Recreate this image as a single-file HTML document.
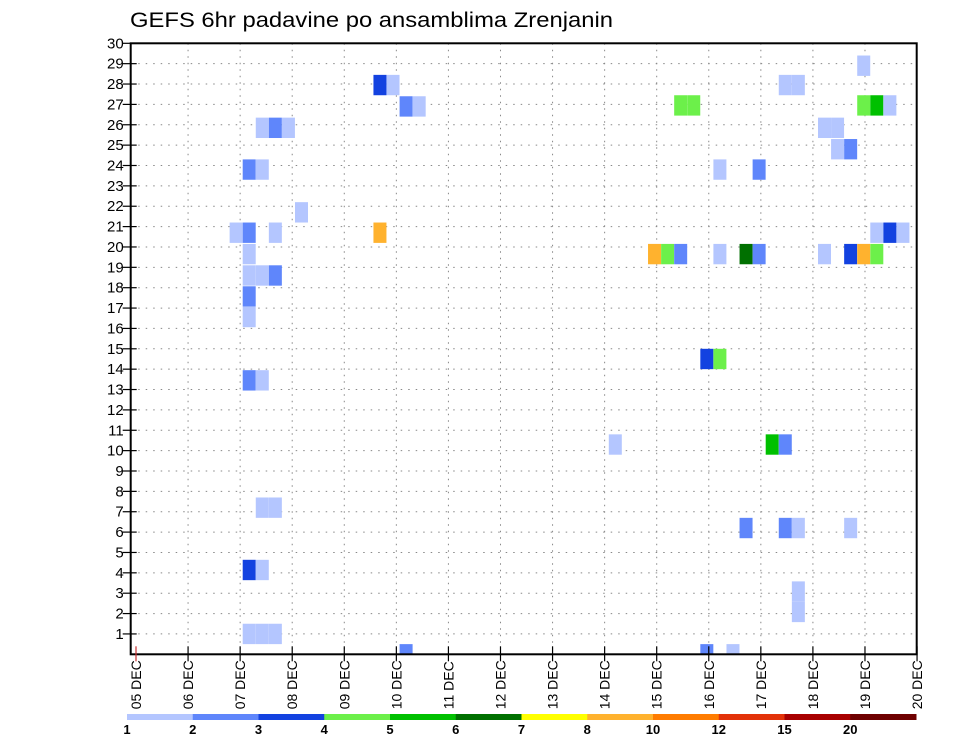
<!DOCTYPE html>
<html><head><meta charset="utf-8">
<style>
html,body{margin:0;padding:0;background:#fff;}
svg{display:block;font-family:"Liberation Sans",sans-serif;}
</style></head>
<body>
<svg id="chart" width="960" height="742" viewBox="0 0 960 742" xmlns="http://www.w3.org/2000/svg">
<text x="130" y="27" font-size="21" textLength="483" lengthAdjust="spacingAndGlyphs" fill="#000">GEFS 6hr padavine po ansamblima Zrenjanin</text>
<g id="grid"></g>
<g id="cells"></g>
<g id="axes"></g>
<g id="legend"></g>
</svg>
<script>
// ---- data ----
const dayLabels = ["05 DEC","06 DEC","07 DEC","08 DEC","09 DEC","10 DEC","11 DEC","12 DEC","13 DEC","14 DEC","15 DEC","16 DEC","17 DEC","18 DEC","19 DEC","20 DEC"];
const rowLabels = [1,2,3,4,5,6,7,8,9,10,11,12,13,14,15,16,17,18,19,20,21,22,23,24,25,26,27,28,29,30];
const levelLabels = ["1","2","3","4","5","6","7","8","10","12","15","20"];
const levelColors = ["#b4c6ff","#5f86fb","#1342e0","#6cf04a","#00c000","#007000","#ffff00","#ffb22e","#ff7c00","#e33208","#a80000","#6e0000"];
// cells: time step (6h steps from 05 DEC 00Z), member row, precipitation level index
const cellSteps = [
  55,
  18,19, 49,50,
  20,21, 41,42, 55,56,57,
  9,10,11, 52,53,
  53,54,
  8,9, 44,47,
  12,
  7,8,10,18, 56,57,58,
  8, 39,40,41,44,46,47,52,54,55,56,
  8,9,10,
  8,
  8,
  43,44,
  8,9,
  36,48,49,
  9,10,
  46,49,50,54,
  8,9,
  50,
  50,
  8,9,10,
  20,43,45
];
const cellRows = [
  28.9,
  27.95,27.95, 27.95,27.95,
  26.9,26.9, 26.95,26.95, 26.95,26.95,26.95,
  25.85,25.85,25.85, 25.85,25.85,
  24.8,24.8,
  23.8,23.8, 23.8,23.8,
  21.7,
  20.7,20.7,20.7,20.7, 20.7,20.7,20.7,
  19.65, 19.65,19.65,19.65,19.65,19.65,19.65,19.65,19.65,19.65,19.65,
  18.6,18.6,18.6,
  17.57,
  16.56,
  14.5,14.5,
  13.45,13.45,
  10.3,10.3,10.3,
  7.2,7.2,
  6.2,6.2,6.2,6.2,
  4.14,4.14,
  3.08,
  2.08,
  1.0,1.0,1.0,
  0,0,0
];
const cellLevels = [
  0,
  2,0, 0,0,
  1,0, 3,3, 3,4,0,
  0,1,0, 0,0,
  0,1,
  1,0, 0,1,
  0,
  0,1,0,7, 0,2,0,
  0, 7,3,1,0,5,1,0,2,7,3,
  0,0,1,
  1,
  0,
  2,3,
  1,0,
  0,4,1,
  0,0,
  1,1,0,0,
  2,0,
  0,
  0,
  0,0,0,
  1,1,0
];

// ---- axes ----
const L=130.7, R=916.7, T=43.3, B=654.3;
const rowH=(B-T)/30;
const yScale = r => B - r*rowH;
const dayX = d => 136 + d*52.07;
const stepX = k => 138.1 + k*13.075;
const NS="http://www.w3.org/2000/svg";
function mk(tag, attrs, parent){const e=document.createElementNS(NS,tag);for(const a in attrs)e.setAttribute(a,attrs[a]);parent.appendChild(e);return e;}

const grid=document.getElementById('grid'), cellsG=document.getElementById('cells'), axes=document.getElementById('axes'), leg=document.getElementById('legend');

rowLabels.forEach(r=>{
  const y=yScale(r);
  const g=mk('line',{x1:L,x2:R,y1:y,y2:y,stroke:'#888','stroke-width':1,'stroke-dasharray':'1.5 6'},grid);
  
  
});
dayLabels.forEach((d,i)=>{
  const x=dayX(i);
  if(i>0 && x<R-2){
    const g=mk('line',{x1:x,x2:x,y1:T,y2:B,stroke:'#888','stroke-width':1,'stroke-dasharray':'1.5 5'},grid);
    
    
  }
});

mk('clipPath',{id:'plotclip'},cellsG).appendChild(document.createElementNS(NS,'rect'));
const cr=cellsG.querySelector('clipPath rect');cr.setAttribute('x',L);cr.setAttribute('y',T);cr.setAttribute('width',R-L);cr.setAttribute('height',B-T);
const cg=mk('g',{'clip-path':'url(#plotclip)'},cellsG);
cellSteps.forEach((k,i)=>{
  const x=stepX(k), yc=yScale(cellRows[i]);
  const c=mk('rect',{x:x,y:yc-rowH/2,width:13,height:rowH,fill:levelColors[cellLevels[i]]},cg);
  
  
});

const frame=mk('rect',{x:L,y:T,width:R-L,height:B-T,fill:'none',stroke:'#000','stroke-width':2},axes);



rowLabels.forEach(r=>{
  const y=yScale(r);
  mk('line',{x1:L-8,x2:L+6,y1:y,y2:y,stroke:'#000','stroke-width':1.2},axes);
  const t=mk('text',{x:L-7,y:y+5,'font-size':15,'text-anchor':'end',fill:'#000'},axes);
  t.textContent=r;
  
  
});
dayLabels.forEach((d,i)=>{
  const x=dayX(i);
  mk('line',{x1:x,x2:x,y1:B-8,y2:B+7,stroke:i===0?'#c33':'#000','stroke-width':1.2},axes);
  const t=mk('text',{x:0,y:0,'font-size':14,fill:'#000',transform:`translate(${x+5},${B+55}) rotate(-90)`},axes);
  t.textContent=d;
  
  
});

// colorbar
const cbL=127, cbW=65.75, cbY=714;
levelColors.forEach((c,i)=>{
  const s=mk('rect',{x:cbL+i*cbW,y:cbY,width:cbW+0.5,height:6,fill:c},leg);
  
  
});
levelLabels.forEach((l,i)=>{
  const t=mk('text',{x:cbL+i*cbW,y:734,'font-size':13,'font-weight':'bold','text-anchor':'middle',fill:'#000'},leg);
  t.textContent=l;
  
  
});
</script>
</body></html>
